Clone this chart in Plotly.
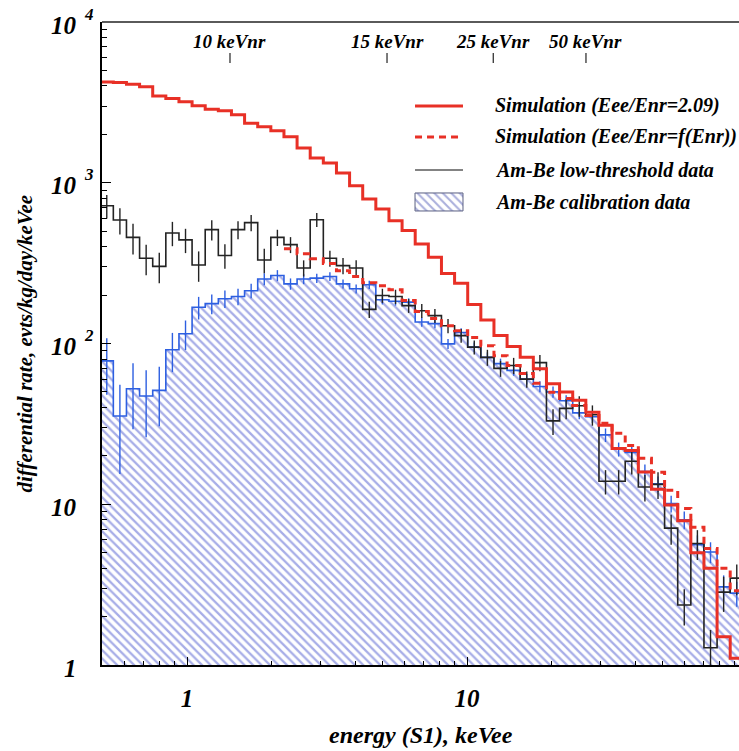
import numpy as np
import plotly.graph_objects as go

# ---------------- data ----------------
# log-spaced energy bins (keVee): 49 bins, first lower edge 10^-0.31, width 0.046875 decades
n_bins = 49
edges = np.logspace(-0.31, -0.31 + n_bins * 0.046875, n_bins + 1)

sim_209 = [4240, 4200, 4100, 3950, 3470, 3340, 3190, 3010, 2870, 2800, 2645, 2348, 2228, 2104,
           1931, 1643, 1424, 1325, 1148, 958, 792, 687, 581, 504, 416, 344, 273, 237, 175, 140,
           112, 95.8, 82.2, 69.7, 56.2, 49.9, 44.3, 37.4, 31.0, 22.2, 21.6, 15.9, 12.4, 9.9, 7.9,
           5.0, 4.0, 1.5, 1.1]

sim_f = [None] * 14 + [389, 362, 337, 314, 284, 261, 239, 229, 216, 185, 158, 143, 129, 120, 109,
                       97, 84, 73, 65, 56.5, 49.7, 45.5, 41.2, 35.7, 31.9, 27.6, 23.2, 19.3, 15.8,
                       12.2, 9.4, 7.2, 5.3, 4.0, 2.9]

low_thr = [720, 586, 457, 339, 302, 487, 441, 308, 511, 353, 511, 565, 331, 457, 412, 295, 589,
           339, 305, 295, 163, 199, 196, 172, 160, 149, 129, 112, 95, 82, 70, 73, 60, 76, 33, 39.5,
           41, 36, 13.9, 13.9, 18.5, 12.8, 13.3, 7.1, 2.36, 5.7, 1.28, 2.84, 3.47]
low_thr_err = [120, 109, 99, 73, 65, 84, 76, 66, 74, 61, 66, 65, 57, 53, 47, 34, 59, 39, 35, 34,
               19, 20, 20, 17, 16, 15, 13, 11, 9.5, 9.4, 8, 8.4, 7, 8.7, 6, 5.7, 6, 5.2, 2.4, 2.4,
               3.2, 2.4, 2.5, 1.5, 0.6, 1.2, 0.37, 0.7, 0.75]

calib = [78, 35.4, 52.3, 47.1, 51.1, 91.4, 115, 168, 177, 190, 196, 213, 252, 265, 235, 252, 255,
         261, 235, 219, 232, 187, 183, 181, 136, 133, 99.5, 117, 95, 82, 75, 68, 60, 54, 50, 44,
         37, 35, 27, 22, 21, 16, 13.4, 10.1, 8.0, 5.6, 5.05, 3.06, 2.8]
calib_err = [30, 20, 23, 21, 20.5, 25, 24, 27, 25, 24, 23, 22, 22, 21, 19, 18, 17, 16, 15, 14, 14,
             12, 11, 10, 9, 8.5, 7, 7.5, 6.5, 6, 5.5, 5, 4.5, 4.2, 4, 3.6, 3.2, 3, 2.6, 2.2, 2.1,
             1.7, 1.5, 1.2, 1.0, 0.8, 0.75, 0.55, 0.5]

# secondary (nuclear-recoil) energy scale marks: label and keVee position
nr_labels = ["10 keVnr", "15 keVnr", "25 keVnr", "50 keVnr"]
nr_pos_keVee = [1.424, 5.18, 12.41, 26.6]

legend_labels = ["Simulation (Eee/Enr=2.09)", "Simulation (Eee/Enr=f(Enr))",
                 "Am-Be low-threshold data", "Am-Be calibration data"]

y_decades = [1, 10, 100, 1000, 10000]
y_exponents = ["", "", "2", "3", "4"]
y_bases = ["1", "10", "10", "10", "10"]

# ---------------- styles ----------------
RED = "rgb(232,48,38)"
BLUE = "rgb(45,95,225)"
BLACK = "rgb(35,35,35)"
HATCH = "rgb(80,92,208)"
FONT = "Liberation Serif"

centers = np.sqrt(edges[:-1] * edges[1:])


def step_xy(vals):
    return list(edges), list(vals) + [vals[-1]]


fig = go.Figure()

# hatched calibration histogram
fx, fy = [], []
for k, v in enumerate(calib):
    fx += [edges[k], edges[k + 1]]
    fy += [v, v]
fx += [edges[-1], edges[0]]
fy += [0.3, 0.3]
fig.add_trace(go.Scatter(x=fx, y=fy, mode="lines", fill="toself", line=dict(width=0),
                         fillcolor="rgba(0,0,0,0)",
                         fillpattern=dict(shape="\\", fgcolor=HATCH, bgcolor="rgba(255,255,255,0)",
                                          size=6, solidity=0.38),
                         hoverinfo="skip"))

sx, sy = step_xy(calib)
fig.add_trace(go.Scatter(x=sx, y=sy, mode="lines", line=dict(color=BLUE, width=1.6, shape="hv")))
fig.add_trace(go.Scatter(x=centers, y=calib, mode="markers", marker=dict(size=0.1, color=BLUE),
                         error_y=dict(type="data", array=calib_err, width=0, thickness=1.4,
                                      color=BLUE)))

sx, sy = step_xy(low_thr)
fig.add_trace(go.Scatter(x=sx, y=sy, mode="lines", line=dict(color=BLACK, width=1.6, shape="hv")))
fig.add_trace(go.Scatter(x=centers, y=low_thr, mode="markers", marker=dict(size=0.1, color=BLACK),
                         error_y=dict(type="data", array=low_thr_err, width=0, thickness=1.4,
                                      color=BLACK)))

sx, sy = step_xy(sim_f)
fig.add_trace(go.Scatter(x=sx, y=sy, mode="lines", connectgaps=False,
                         line=dict(color=RED, width=3, shape="hv", dash="7px,5px")))

sx, sy = step_xy(sim_209)
fig.add_trace(go.Scatter(x=sx, y=sy, mode="lines", line=dict(color=RED, width=3, shape="hv")))

# keVnr tick marks (x in keVee on main axis, y as fraction of plot height)
tx, ty = [], []
for p in nr_pos_keVee:
    tx += [p, p, None]
    ty += [0.9518, 0.9362, None]
fig.add_trace(go.Scatter(x=tx, y=ty, mode="lines", yaxis="y2",
                         line=dict(color=BLACK, width=1.2), hoverinfo="skip"))

# legend (drawn on overlay axes in plot fractions)
lx0, lx1 = 0.4914, 0.5667
rows = [0.8694, 0.8212, 0.7698, 0.7201]
fig.add_trace(go.Scatter(x=[lx0, lx1], y=[rows[0]] * 2, mode="lines", xaxis="x2", yaxis="y2",
                         line=dict(color=RED, width=3)))
fig.add_trace(go.Scatter(x=[lx0, lx1], y=[rows[1]] * 2, mode="lines", xaxis="x2", yaxis="y2",
                         line=dict(color=RED, width=3, dash="7px,5px")))
fig.add_trace(go.Scatter(x=[lx0, lx1], y=[rows[2]] * 2, mode="lines", xaxis="x2", yaxis="y2",
                         line=dict(color="rgb(90,90,90)", width=1.3)))
bh = 0.014
fig.add_trace(go.Scatter(x=[lx0, lx1, lx1, lx0, lx0],
                         y=[rows[3] - bh, rows[3] - bh, rows[3] + bh, rows[3] + bh, rows[3] - bh],
                         mode="lines", fill="toself", xaxis="x2", yaxis="y2",
                         line=dict(color="rgb(90,95,130)", width=1),
                         fillcolor="rgba(0,0,0,0)",
                         fillpattern=dict(shape="\\", fgcolor="rgb(85,95,185)",
                                          bgcolor="rgba(255,255,255,0)", size=6, solidity=0.35)))

ann = []
for lab, r in zip(legend_labels, rows):
    ann.append(dict(x=0.614, y=r, xref="paper", yref="paper", xanchor="left", yanchor="middle",
                    text="<b><i>%s</i></b>" % lab, showarrow=False,
                    font=dict(family=FONT, size=20, color="black")))
for lab, p in zip(nr_labels, nr_pos_keVee):
    ann.append(dict(x=np.log10(p), y=0.9689, xref="x", yref="paper", xanchor="center",
                    yanchor="middle", text="<b><i>%s</i></b>" % lab, showarrow=False,
                    font=dict(family=FONT, size=19, color="black")))
for v, b, e in zip(y_decades, y_bases, y_exponents):
    yp = np.log10(v) / 4.0
    ann.append(dict(x=-0.0361, y=yp, xref="paper", yref="paper", xanchor="right",
                    yanchor="middle", yshift=-3, text="<b><i>%s</i></b>" % b, showarrow=False,
                    font=dict(family=FONT, size=25, color="black")))
    if e:
        ann.append(dict(x=-0.0314, y=yp, xref="paper", yref="paper", xanchor="left",
                        yanchor="middle", yshift=8, text="<b><i>%s</i></b>" % e,
                        showarrow=False, font=dict(family=FONT, size=17, color="black")))
ann.append(dict(x=0.5, y=-0.1089, xref="paper", yref="paper", xanchor="center", yanchor="middle",
                text="<b><i>energy (S1), keVee</i></b>", showarrow=False,
                font=dict(family=FONT, size=24, color="black")))
ann.append(dict(x=-0.1209, y=0.5, xref="paper", yref="paper", xanchor="center", yanchor="middle",
                textangle=-90, text="<b><i>differential rate, evts/kg/day/keVee</i></b>",
                showarrow=False, font=dict(family=FONT, size=21, color="black")))

x_minor = [d * m for d in (0.1, 1, 10) for m in range(1, 10) if 0.5 <= d * m <= 95 and m != 1]
y_minor = [d * m for d in (1, 10, 100, 1000) for m in range(2, 10)]

fig.update_layout(
    width=739, height=751,
    margin=dict(l=102, r=0, t=22, b=86),
    plot_bgcolor="white", paper_bgcolor="white",
    showlegend=False,
    annotations=ann,
    xaxis=dict(type="log", range=[-0.3036, 1.9714], showline=True, linecolor="black",
               linewidth=2, ticks="inside", ticklen=8, tickwidth=1, tickcolor="black",
               tickvals=[1, 10], ticktext=["<b><i>1</i></b>", "<b><i>10</i></b>"],
               tickfont=dict(family=FONT, size=25, color="black"), ticklabelstandoff=10,
               minor=dict(ticks="inside", ticklen=4, tickcolor="black", tickvals=x_minor),
               showgrid=False, zeroline=False),
    yaxis=dict(type="log", range=[0, 4], showline=True, linecolor="black", linewidth=2,
               ticks="inside", ticklen=9, tickwidth=1, tickcolor="black", tickvals=y_decades,
               showticklabels=False,
               minor=dict(ticks="inside", ticklen=5, tickcolor="black", tickvals=y_minor),
               showgrid=False, zeroline=False),
    xaxis2=dict(overlaying="x", range=[0, 1], visible=False),
    yaxis2=dict(overlaying="y", range=[0, 1], visible=False),
    shapes=[dict(type="line", xref="paper", yref="paper", x0=0, x1=1, y0=1, y1=1,
                 line=dict(color="rgb(90,90,90)", width=2))],
)

fig.write_html("out.html")
